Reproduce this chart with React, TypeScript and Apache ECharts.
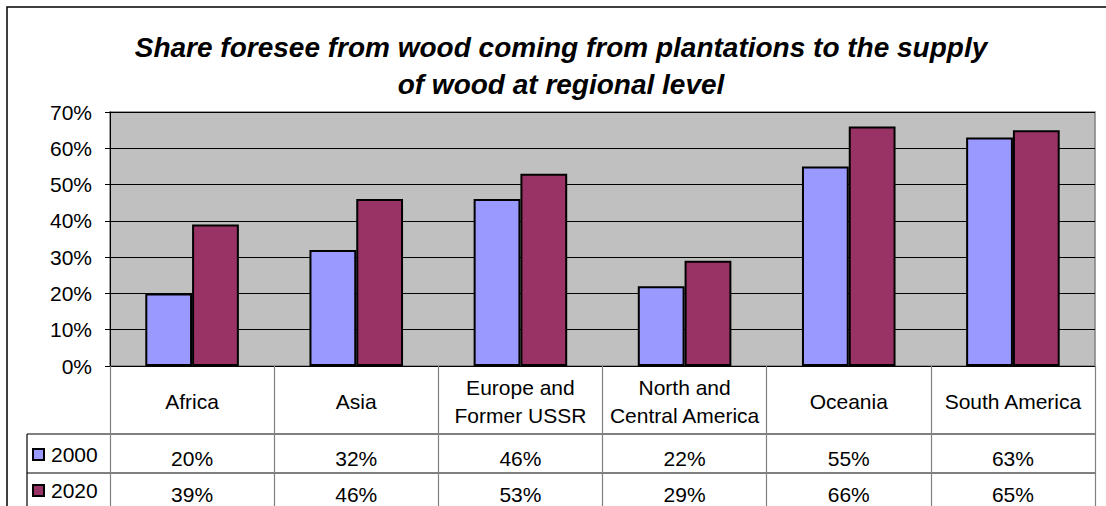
import React, { useEffect, useRef } from "react";
import * as echarts from "echarts";

const categories = [
  "Africa",
  "Asia",
  "Europe and\nFormer USSR",
  "North and\nCentral America",
  "Oceania",
  "South America",
];
const values2000 = [20, 32, 46, 22, 55, 63];
const values2020 = [39, 46, 53, 29, 66, 65];
const yTicks = [0, 10, 20, 30, 40, 50, 60, 70];
const seriesNames = ["2000", "2020"];
const titleText =
  "Share foresee from wood coming from plantations to the supply\nof wood at regional level";

const FONT = "'Liberation Sans', Arial, Helvetica, sans-serif";
const FS = 21;

export default function App() {
  const ref = useRef<HTMLDivElement>(null);
  useEffect(() => {
    document.body.style.margin = "0";
    if (!ref.current) return;
    const chart = echarts.init(ref.current, undefined, { renderer: "svg" });
    const gridLeft = 110;
    const gridTop = 112;
    const gridW = 985;
    const gridH = 254;
    const gridRight = gridLeft + gridW;
    const row1 = 434;
    const row2 = 473;
    const tableLeft = 27;

    const valueAxis = (vals: number[], margin: number) => ({
      type: "category",
      data: categories,
      gridIndex: 0,
      position: "bottom",
      axisLine: { show: false },
      axisTick: { show: false },
      splitLine: { show: false },
      axisLabel: {
        show: true,
        interval: 0,
        margin,
        verticalAlign: "middle",
        fontSize: FS,
        color: "#000",
        fontFamily: FONT,
        formatter: (_v: string, i: number) => vals[i] + "%",
      },
    });

    const legendCommon = {
      left: 32,
      padding: 0,
      itemWidth: 11,
      itemHeight: 11,
      selectedMode: false,
      icon: "rect",
      textStyle: { fontSize: FS, color: "#000", fontFamily: FONT, padding: [10, 0, 0, 2] },
    };

    chart.setOption({
      animation: false,
      textStyle: { fontFamily: FONT },
      title: {
        text: titleText,
        left: 561,
        top: 29,
        padding: 0,
        textAlign: "center",
        textStyle: {
          fontSize: 28,
          fontWeight: "bold",
          fontStyle: "italic",
          lineHeight: 37,
          color: "#000",
          fontFamily: FONT,
        },
      },
      legend: [
        { ...legendCommon, data: [seriesNames[0]], top: 444 },
        { ...legendCommon, data: [seriesNames[1]], top: 480 },
      ],
      grid: {
        left: gridLeft,
        top: gridTop,
        width: gridW,
        height: gridH,
        show: true,
        backgroundColor: "#C0C0C0",
        borderColor: "#808080",
        borderWidth: 1.5,
      },
      xAxis: [
        {
          type: "category",
          data: categories,
          position: "bottom",
          axisLine: { show: true, lineStyle: { color: "#000", width: 1 } },
          axisTick: {
            show: true,
            interval: 0,
            length: 150,
            lineStyle: { color: "#808080", width: 1.2 },
          },
          axisLabel: {
            interval: 0,
            margin: 35,
            verticalAlign: "middle",
            fontSize: FS,
            lineHeight: 28,
            color: "#000",
            fontFamily: FONT,
          },
        },
        valueAxis(values2000, 92),
        valueAxis(values2020, 128),
      ],
      yAxis: {
        type: "value",
        min: yTicks[0],
        max: yTicks[yTicks.length - 1],
        interval: 10,
        axisLine: { show: true, lineStyle: { color: "#000", width: 1 } },
        axisTick: { show: true, length: 5, lineStyle: { color: "#000" } },
        splitLine: { show: true, lineStyle: { color: "#000", width: 1 } },
        axisLabel: {
          margin: 18,
          fontSize: FS,
          color: "#000",
          fontFamily: FONT,
          formatter: (v: number) => v + "%",
        },
      },
      series: [
        {
          name: seriesNames[0],
          type: "bar",
          data: values2000,
          barGap: "0%",
          barCategoryGap: "43%",
          itemStyle: { color: "#9999FF", borderColor: "#000", borderWidth: 2 },
        },
        {
          name: seriesNames[1],
          type: "bar",
          data: values2020,
          barGap: "0%",
          barCategoryGap: "43%",
          itemStyle: { color: "#993366", borderColor: "#000", borderWidth: 2 },
        },
      ],
      graphic: [
        {
          type: "rect",
          shape: { x: 7, y: 7, width: 1102, height: 530 },
          style: { fill: "none", stroke: "#000", lineWidth: 1.5 },
          silent: true,
        },
        {
          type: "line",
          shape: { x1: tableLeft, y1: row1, x2: gridRight, y2: row1 },
          style: { stroke: "#000", lineWidth: 1 },
          silent: true,
        },
        {
          type: "line",
          shape: { x1: tableLeft, y1: row2, x2: gridRight, y2: row2 },
          style: { stroke: "#000", lineWidth: 1 },
          silent: true,
        },
        {
          type: "line",
          shape: { x1: tableLeft, y1: row1, x2: tableLeft, y2: 520 },
          style: { stroke: "#000", lineWidth: 1.2 },
          silent: true,
        },
      ],
    });
    return () => chart.dispose();
  }, []);
  return <div ref={ref} style={{ width: 1106, height: 506 }} />;
}
